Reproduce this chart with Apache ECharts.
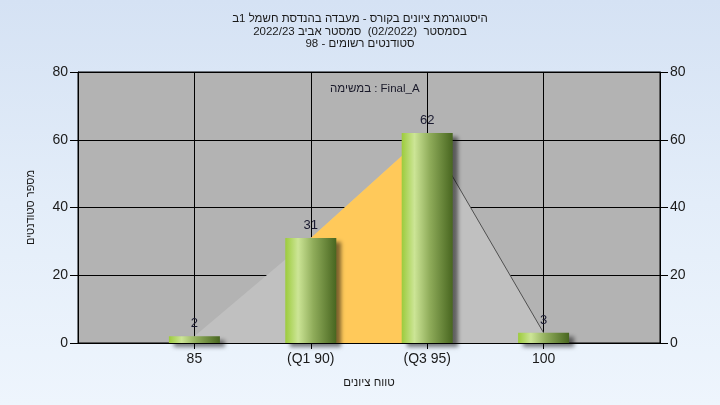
<!DOCTYPE html>
<html>
<head>
<meta charset="utf-8">
<script src="https://cdn.jsdelivr.net/npm/echarts@6/dist/echarts.min.js"></script>
<style>
html,body{margin:0;padding:0;width:720px;height:405px;overflow:hidden;
background:linear-gradient(to bottom,#d5e2f4 0%,#e3edf9 50%,#eef5fd 100%);}
#c{width:720px;height:405px;}
</style>
</head>
<body>
<div id="c"></div>
<script>
var titleLines = ['היסטוגרמת ציונים בקורס - מעבדה בהנדסת חשמל 1ב', 'בסמסטר  (02/2022)  סמסטר אביב 2022/23', 'סטודנטים רשומים - 98'];
var subText = 'במשימה : Final_A';
var categories = ['85', '(Q1 90)', '(Q3 95)', '100'];
var counts = [2, 31, 62, 3];
var yTicks = [0, 20, 40, 60, 80];
var yName = 'מספר סטודנטים';
var xName = 'טווח ציונים';

var axisCats = [''].concat(categories).concat(['']);
var padded = [null].concat(counts).concat([null]);
var iqr = padded.map(function (v, i) { return (i === 2 || i === 3) ? v : null; });
var tail = padded.map(function (v, i) { return (i === 3 || i === 4) ? v : null; });

var FONT = 'Liberation Sans';
var chart = echarts.init(document.getElementById('c'), null, {renderer: 'canvas'});
var inner = function (idx) { return idx > 0 && idx < axisCats.length - 1; };
var yAxisCommon = {
  type: 'value', min: yTicks[0], max: yTicks[yTicks.length - 1], interval: yTicks[1] - yTicks[0],
  axisLine: {show: true, lineStyle: {color: '#000', width: 1}},
  axisTick: {show: true, length: 8, lineStyle: {color: '#000'}},
  axisLabel: {color: '#1a1a1a', fontFamily: FONT, fontSize: 14, margin: 10},
  splitLine: {show: false}
};
chart.setOption({
  backgroundColor: 'transparent',
  animation: false,
  title: [{
    text: titleLines.join('\n'), left: 'center', top: 8,
    textStyle: {fontFamily: FONT, fontSize: 11.5, fontWeight: 'normal', color: '#1a1a1a', lineHeight: 12.5}
  }, {
    text: subText, left: 325, top: 78,
    textStyle: {fontFamily: FONT, fontSize: 11.5, fontWeight: 'normal', color: '#1a1a2a'}
  }],
  grid: {left: 78, right: 60, top: 72, bottom: 62, show: true, backgroundColor: '#b3b3b3', borderColor: '#000', borderWidth: 1},
  xAxis: {
    type: 'category', data: axisCats, boundaryGap: false,
    name: xName, nameLocation: 'middle', nameGap: 34,
    nameTextStyle: {fontFamily: FONT, fontSize: 11.5, color: '#1a1a1a'},
    axisLine: {show: true, onZero: false, lineStyle: {color: '#000'}},
    axisTick: {show: true, length: 6, interval: function (i) { return inner(i); }, lineStyle: {color: '#000'}},
    axisLabel: {color: '#1a1a1a', fontFamily: FONT, fontSize: 14, margin: 9, interval: function (i) { return inner(i); }},
    splitLine: {show: true, interval: function (i) { return inner(i); }, lineStyle: {color: '#000', width: 1}}
  },
  yAxis: [
    Object.assign({}, yAxisCommon, {
      position: 'left', name: yName, nameLocation: 'middle', nameGap: 42, nameRotate: 90,
      nameTextStyle: {fontFamily: FONT, fontSize: 11, color: '#1a1a1a'},
      splitLine: {show: true, lineStyle: {color: '#000', width: 1}}
    }),
    Object.assign({}, yAxisCommon, {position: 'right'})
  ],
  series: [{
    type: 'line', data: padded, symbol: 'none', silent: true, z: 1,
    lineStyle: {width: 0}, areaStyle: {color: '#c0c0c0', opacity: 1}
  }, {
    type: 'line', data: iqr, symbol: 'none', silent: true, z: 2,
    lineStyle: {width: 0}, areaStyle: {color: '#ffc95a', opacity: 1}
  }, {
    type: 'line', data: tail, symbol: 'none', silent: true, z: 3,
    lineStyle: {width: 1, color: '#505050'}
  }, {
    type: 'bar', data: padded, barWidth: 51, z: 5,
    itemStyle: {
      color: new echarts.graphic.LinearGradient(0, 0, 1, 0, [
        {offset: 0, color: '#9ccb3c'},
        {offset: 0.25, color: '#cce596'},
        {offset: 0.55, color: '#8fac5a'},
        {offset: 1, color: '#486620'}
      ]),
      shadowColor: 'rgba(0,0,0,0.5)', shadowBlur: 4, shadowOffsetX: 5, shadowOffsetY: 4
    },
    label: {show: true, position: 'top', distance: 6, color: '#1a1a30', fontFamily: FONT, fontSize: 13}
  }]
});
</script>
</body>
</html>
